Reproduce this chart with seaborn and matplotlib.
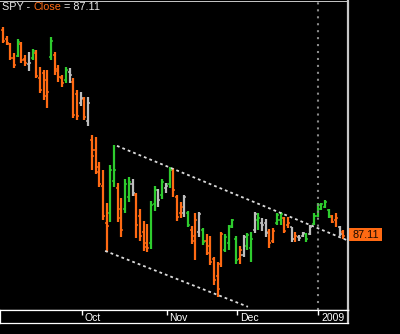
import numpy as np
import pandas as pd
import matplotlib
matplotlib.use("Agg")
import matplotlib.pyplot as plt
import matplotlib.transforms as mtransforms
from matplotlib.patches import Rectangle
import seaborn as sns

# ---------------- data (SPY daily bars) ----------------
opens = [131.9, 130.0, 128.8, 125.9, 126.3, 128.8, 125.6, 124.5, 125.8, 127.0,
         121.5, 122.5, 121.0, 126.0, 126.5, 123.5, 121.5, 121.0, 122.8, 120.5,
         118.0, 116.0, 116.8, 112.0, 108.0, 105.9, 102.0, 98.0, 90.0, 92.0,
         99.0, 97.5, 93.0, 93.0, 95.5, 98.5, 96.0, 91.5, 88.0, 85.5,
         85.5, 94.0, 97.0, 96.0, 97.5, 98.5, 101.5, 95.5, 92.0, 92.0,
         92.0, 88.5, 87.0, 88.0, 88.5, 86.0, 85.0, 82.0, 78.5, 81.0,
         84.0, 85.5, 89.2, 86.5, 82.0, 83.0, 85.0, 84.5, 88.5, 90.5,
         90.0, 90.0, 88.0, 86.0, 90.0, 90.5, 91.0, 89.5, 89.0, 86.5,
         86.8, 87.0, 87.5, 87.5, 89.8, 91.5, 93.0, 93.5, 92.8, 91.5,
         90.5, 89.0, 88.0]
highs = [132.5, 130.6, 129.1, 126.9, 129.9, 129.3, 126.4, 127.1, 127.8, 127.5,
         123.8, 123.2, 123.2, 130.4, 127.1, 124.3, 122.1, 123.8, 123.6, 121.5,
         118.8, 118.4, 117.3, 117.3, 109.1, 108.6, 103.2, 101.5, 94.3, 102.5,
         106.9, 98.6, 95.4, 99.5, 99.9, 99.5, 96.5, 93.0, 90.4, 89.7,
         94.7, 98.0, 97.3, 99.5, 98.6, 102.1, 101.9, 96.0, 94.5, 96.0,
         92.5, 89.3, 92.1, 92.3, 88.8, 87.5, 87.1, 82.5, 81.5, 88.0,
         87.5, 89.5, 90.8, 87.1, 85.0, 87.3, 87.8, 88.0, 92.3, 92.1,
         91.0, 90.8, 88.6, 88.8, 92.1, 92.3, 91.2, 91.2, 89.1, 88.0,
         87.3, 88.0, 87.8, 89.5, 92.1, 94.3, 94.3, 94.9, 93.0, 91.7,
         92.1, 89.3, 88.4]
lows = [129.1, 128.6, 125.4, 123.6, 126.0, 124.7, 124.1, 123.0, 125.4, 121.5,
        118.2, 116.7, 115.0, 125.4, 122.1, 120.6, 119.5, 120.4, 120.4, 112.8,
        112.3, 115.4, 112.3, 111.0, 101.5, 100.6, 97.8, 90.6, 83.6, 90.1,
        97.8, 90.1, 86.9, 92.1, 94.5, 95.8, 86.7, 86.0, 83.8, 83.6,
        84.3, 92.5, 93.4, 95.1, 96.5, 97.5, 95.6, 90.4, 91.0, 91.2,
        89.1, 85.4, 81.9, 86.9, 85.2, 83.0, 80.8, 76.5, 73.8, 80.4,
        83.6, 84.1, 88.8, 81.0, 81.0, 82.5, 84.1, 81.5, 87.8, 88.4,
        88.2, 86.9, 84.5, 85.6, 89.5, 89.5, 87.8, 88.8, 85.8, 85.8,
        86.0, 86.9, 85.8, 87.3, 89.5, 91.2, 92.8, 93.2, 91.0, 89.9,
        89.1, 87.1, 86.5]
closes = [129.5, 129.0, 125.9, 124.3, 129.3, 125.3, 124.7, 124.8, 127.3, 121.9,
          118.9, 117.5, 118.5, 129.5, 123.0, 121.6, 120.3, 123.3, 122.0, 113.5,
          113.2, 117.2, 113.0, 116.0, 104.5, 101.0, 98.5, 91.5, 89.2, 101.5,
          101.5, 91.0, 88.5, 98.5, 98.8, 96.5, 89.5, 87.0, 84.8, 84.5,
          93.8, 97.0, 95.0, 98.8, 98.0, 101.5, 97.0, 91.2, 93.5, 95.5,
          89.5, 86.0, 90.5, 91.8, 85.8, 83.5, 81.5, 77.5, 75.5, 87.5,
          86.8, 89.0, 90.5, 81.8, 84.0, 86.8, 87.3, 86.5, 91.8, 91.0,
          89.5, 87.8, 85.5, 88.2, 91.7, 91.9, 88.2, 89.9, 86.5, 87.0,
          86.6, 87.8, 86.5, 89.0, 91.5, 93.8, 94.0, 94.5, 91.3, 90.2,
          91.0, 87.5, 87.11]
# bar colour class: o = orange, g = green, s = grey
bar_class = list("oooogoosgo" "ooogooogso" "osos" "oooooggoog" "gsoooogg"
                 "sgsgooosgo" "osgooooogg" "ggosggsgss" "ooggooso" "ssgsgggggoos" "oo")

month_labels = ["Oct", "Nov", "Dec", "2009"]
month_first_bar = [22, 45, 64, 86]

# hand-drawn trend channel (bar index, price)
upper_channel_x = [30.8, 93.24]
upper_channel_y = [106.7, 86.1]
lower_channel_x = [27.6, 66.2]
lower_channel_y = [83.85, 71.7]

# ---------------- styling ----------------
sns.set_theme(style="dark", rc={"axes.facecolor": "black", "figure.facecolor": "black",
                                "axes.grid": False})
plt.rcParams["font.family"] = ["Liberation Sans", "DejaVu Sans"]
plt.rcParams["lines.scale_dashes"] = False

ORANGE = "#FF6A13"
GREEN = "#2ECC2E"
GREY = "#BDBDBD"
cmap = {"o": ORANGE, "g": GREEN, "s": GREY}

n = len(closes)
df = pd.DataFrame({"i": np.arange(n), "open": opens, "high": highs, "low": lows,
                   "close": closes, "cls": bar_class[:n]})
df["color"] = df["cls"].map(cmap)

W, H = 400, 334
fig = plt.figure(figsize=(W / 100, H / 100), dpi=100)
ax = fig.add_axes([0, (H - 310) / H, 348 / W, 309 / H])
ax.set_facecolor("black")

xl = (-0.81, 93.24)
yl = (71.0, 138.2)

ax.vlines(df["i"], df["low"], df["high"], colors=df["color"], linewidth=1.6)
ax.hlines(df["open"], df["i"] - 0.55, df["i"], colors=df["color"], linewidth=1.1)
ax.hlines(df["close"], df["i"], df["i"] + 0.55, colors=df["color"], linewidth=1.1)

sns.lineplot(x=upper_channel_x, y=upper_channel_y, ax=ax, color="#DCDCDC",
             linewidth=1.3, dashes=False).lines[-1].set_dashes((2, 2.2))
sns.lineplot(x=lower_channel_x, y=lower_channel_y, ax=ax, color="#DCDCDC",
             linewidth=1.3, dashes=False).lines[-1].set_dashes((2, 2.2))

tick_pos = [m - 0.75 for m in month_first_bar]
ax.axvline(tick_pos[-1], color="#8A8A8A", linewidth=1.5, dashes=(1.5, 3.5))

ax.set_xlim(*xl)
ax.set_ylim(*yl)
ax.set_xticks([])
ax.set_yticks([])
ax.set_xlabel("")
ax.set_ylabel("")
ax.spines["left"].set_visible(False)
ax.spines["top"].set_color("#C8C8C8")
ax.spines["top"].set_linewidth(0.7)
ax.spines["right"].set_color("#C8C8C8")
ax.spines["right"].set_linewidth(1.6)
ax.spines["bottom"].set_color("white")
ax.spines["bottom"].set_linewidth(0.9)

# date strip under the chart
ax2 = fig.add_axes([0, (H - 323) / H, 348 / W, 13 / H])
ax2.set_facecolor("black")
ax2.set_xlim(*xl)
ax2.set_ylim(0, 1)
ax2.set_yticks([])
ax2.set_xticks(tick_pos)
ax2.tick_params(axis="x", direction="in", top=True, bottom=False, length=3.5,
                width=1, color="white", labelbottom=False, labeltop=False)
for side in ["left", "right", "top", "bottom"]:
    ax2.spines[side].set_color("white")
    ax2.spines[side].set_linewidth(0.9)
ax2.spines["right"].set_color("#C8C8C8")
ax2.spines["right"].set_linewidth(1.6)
for p, lab in zip(tick_pos, month_labels):
    ax2.text(p + 0.75, 0.42, lab, transform=ax2.get_xaxis_transform(), ha="left",
             va="center", color="white", fontsize=7.5)

# title with coloured "Close"
fig.canvas.draw()
r = fig.canvas.get_renderer()
x = 2.0
for s, c in [("SPY - ", "#E6E6E6"), ("Close", ORANGE), (" = 87.11", "#E6E6E6")]:
    t = fig.text(x / W, (H - 10.5) / H, s, color=c, fontsize=7.8, ha="left", va="baseline")
    bb = t.get_window_extent(renderer=r)
    x = bb.x1

# last price label on the right
xd, yd = ax.transData.transform((xl[1], closes[-1]))
fig.add_artist(Rectangle((xd + 1, yd - 5.5), 33, 13, transform=mtransforms.IdentityTransform(),
                         facecolor=ORANGE, edgecolor="none"))
fig.text((xd + 17.5) / W, (yd + 1) / H, f"{closes[-1]:.2f}", color="#1A0A00", fontsize=7.8,
         ha="center", va="center")

fig.savefig("out.png", dpi=100, facecolor="black")
